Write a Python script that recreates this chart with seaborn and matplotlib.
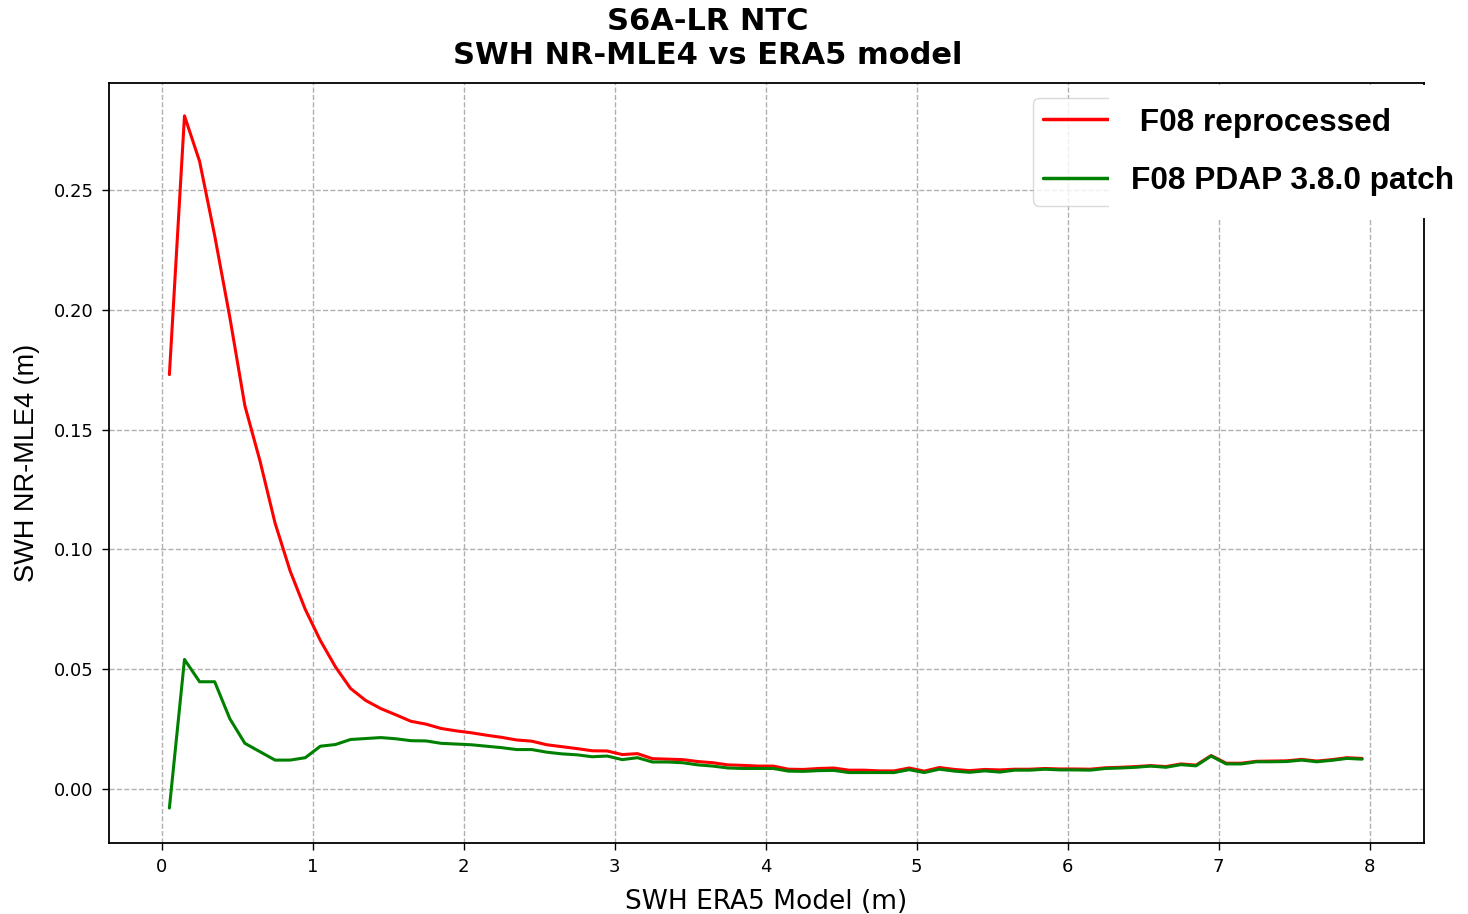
import matplotlib
matplotlib.use("Agg")
import matplotlib.pyplot as plt
import seaborn as sns
import pandas as pd

x_vals = [0.05, 0.15, 0.25, 0.35, 0.45, 0.55, 0.65, 0.75, 0.85, 0.95,
          1.05, 1.15, 1.25, 1.35, 1.45, 1.55, 1.65, 1.75, 1.85, 1.95,
          2.05, 2.15, 2.25, 2.35, 2.45, 2.55, 2.65, 2.75, 2.85, 2.95,
          3.05, 3.15, 3.25, 3.35, 3.45, 3.55, 3.65, 3.75, 3.85, 3.95,
          4.05, 4.15, 4.25, 4.35, 4.45, 4.55, 4.65, 4.75, 4.85, 4.95,
          5.05, 5.15, 5.25, 5.35, 5.45, 5.55, 5.65, 5.75, 5.85, 5.95,
          6.05, 6.15, 6.25, 6.35, 6.45, 6.55, 6.65, 6.75, 6.85, 6.95,
          7.05, 7.15, 7.25, 7.35, 7.45, 7.55, 7.65, 7.75, 7.85, 7.95]

reprocessed = [0.173, 0.281, 0.262, 0.231, 0.197, 0.160, 0.137, 0.111, 0.091, 0.075,
               0.062, 0.051, 0.042, 0.037, 0.0336, 0.031, 0.0283, 0.0271, 0.0253, 0.0243,
               0.0235, 0.0225, 0.0216, 0.0205, 0.0200, 0.0185, 0.0177, 0.0169, 0.0160, 0.0159,
               0.0144, 0.0148, 0.0127, 0.0125, 0.0123, 0.0115, 0.0110, 0.0101, 0.0099, 0.0096,
               0.0096, 0.0083, 0.0082, 0.0086, 0.0088, 0.0079, 0.0079, 0.0076, 0.0076, 0.0088,
               0.0075, 0.0090, 0.0082, 0.0077, 0.0082, 0.0080, 0.0083, 0.0083, 0.0086, 0.0084,
               0.0084, 0.0083, 0.0089, 0.0091, 0.0094, 0.0098, 0.0094, 0.0105, 0.0100, 0.0140,
               0.0108, 0.0108, 0.0116, 0.0117, 0.0118, 0.0124, 0.0117, 0.0123, 0.0131, 0.0128]

pdap_patch = [-0.0079, 0.0541, 0.0448, 0.0448, 0.0294, 0.0191, 0.0156, 0.0121, 0.0121, 0.0131,
              0.0179, 0.0186, 0.0207, 0.0211, 0.0215, 0.0210, 0.0202, 0.0201, 0.0191, 0.0188,
              0.0185, 0.0179, 0.0173, 0.0165, 0.0165, 0.0154, 0.0147, 0.0143, 0.0135, 0.0138,
              0.0123, 0.0131, 0.0113, 0.0113, 0.0110, 0.0101, 0.0096, 0.0088, 0.0086, 0.0086,
              0.0086, 0.0075, 0.0074, 0.0077, 0.0078, 0.0069, 0.0069, 0.0069, 0.0069, 0.0081,
              0.0069, 0.0083, 0.0075, 0.0070, 0.0076, 0.0071, 0.0079, 0.0079, 0.0083, 0.0080,
              0.0080, 0.0079, 0.0086, 0.0088, 0.0091, 0.0096, 0.0091, 0.0102, 0.0097, 0.0138,
              0.0105, 0.0105, 0.0114, 0.0114, 0.0115, 0.0121, 0.0114, 0.0120, 0.0128, 0.0125]

series_labels = [" F08 reprocessed    ", "F08 PDAP 3.8.0 patch"]
series_colors = ["red", "green"]
x_ticks = [0, 1, 2, 3, 4, 5, 6, 7, 8]
y_ticks = [0.00, 0.05, 0.10, 0.15, 0.20, 0.25]

df = pd.DataFrame({
    "x": x_vals * 2,
    "y": reprocessed + pdap_patch,
    "series": [series_labels[0]] * len(x_vals) + [series_labels[1]] * len(x_vals),
})

sns.set_style("white")
plt.rcParams["font.family"] = ["DejaVu Sans"]
plt.rcParams["text.color"] = "black"
plt.rcParams["axes.labelcolor"] = "black"
plt.rcParams["xtick.color"] = "black"
plt.rcParams["ytick.color"] = "black"

W, H = 1468, 914
fig = plt.figure(figsize=(W / 100, H / 100), dpi=100)
ax = fig.add_axes([109 / W, 1 - 843 / H, (1424 - 109) / W, (843 - 83) / H])

sns.lineplot(data=df, x="x", y="y", hue="series", palette=series_colors,
             hue_order=series_labels, linewidth=2.2, ax=ax, sort=False)

ax.set_xlim(-0.35, 8.36)
ax.set_ylim(-0.0225, 0.2947)
ax.set_xticks(x_ticks)
ax.set_xticklabels([str(t) for t in x_ticks])
ax.set_yticks(y_ticks)
ax.set_yticklabels([f"{t:.2f}" for t in y_ticks])
ax.tick_params(axis="both", labelsize=13, length=5, width=1, color="black",
               direction="out", bottom=True, left=True, pad=6)
ax.grid(True, linestyle="--", color="#b0b0b0", linewidth=1)
for s in ax.spines.values():
    s.set_color("black")
    s.set_linewidth(1.3)

ax.set_xlabel("SWH ERA5 Model (m)", fontsize=19, labelpad=9)
ax.set_ylabel("SWH NR-MLE4 (m)", fontsize=19.5, family=["Liberation Sans"], labelpad=10)

fig.text(708 / W, 1 - 7 / H, "S6A-LR NTC\nSWH NR-MLE4 vs ERA5 model",
         ha="center", va="top", fontsize=22, fontweight="bold", linespacing=1.2)

leg = ax.legend(loc="upper left", bbox_to_anchor=(1033 / W, 1 - 98 / H),
                bbox_transform=fig.transFigure, borderaxespad=0,
                prop={"family": "Liberation Sans", "weight": "bold", "size": 22.8},
                handlelength=2.1, handletextpad=0.7, borderpad=0.3,
                labelspacing=0.9, frameon=True, fancybox=True, framealpha=0.8,
                edgecolor="#d0d0d0")
frame = leg.get_frame()
frame.set_clip_on(True)
frame.set_clip_box(ax.bbox)
for line in leg.get_lines():
    line.set_linewidth(2.5)
for t in leg.get_texts():
    t.set_bbox(dict(facecolor="white", edgecolor="none", pad=16))

fig.savefig("out.png", dpi=100)
